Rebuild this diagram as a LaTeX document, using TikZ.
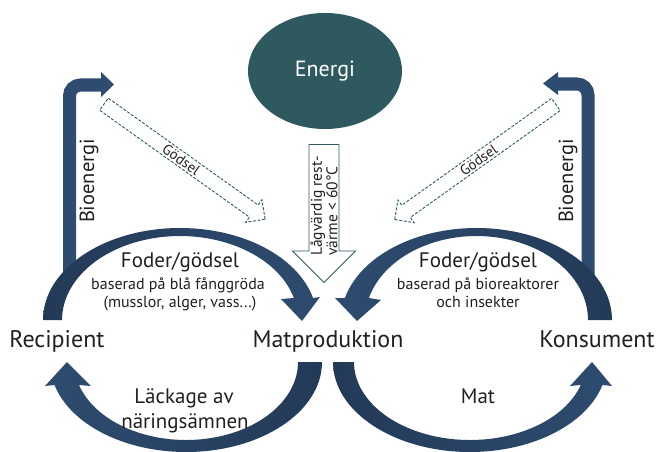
\documentclass[tikz,border=0pt]{standalone}
\usepackage{fontspec}
\setmainfont{PT Sans}
\usetikzlibrary{positioning,shapes.geometric,shapes.arrows}

\definecolor{navyd}{HTML}{233A57}
\definecolor{navyl}{HTML}{2E4C70}
\definecolor{tealf}{HTML}{2E5A5F}
\definecolor{teall}{HTML}{2F5D62}
\definecolor{ink}{HTML}{231F20}

\tikzset{
  place/.style={text=ink, anchor=base, font=\fontsize{24}{26}\selectfont},
  foder/.style={text=ink, anchor=base, font=\fontsize{21}{23}\selectfont},
  detail/.style={text=ink, anchor=base, font=\fontsize{16}{18}\selectfont},
  bio/.style={text=ink, rotate=90, font=\fontsize{20.5}{22}\selectfont},
  biobar/.style={draw=navyl, line width=13pt, rounded corners=11pt},
  godselarrow/.style={single arrow, draw=teall, line width=0.9pt, dash pattern=on 3pt off 1.6pt,
    fill=white, text=ink, font=\fontsize{14.5}{14.5}\selectfont, minimum height=198pt,
    single arrow head extend=6.5pt, inner xsep=0pt, inner ysep=1.5pt, text height=11pt, text depth=0pt},
  heatarrow/.style={single arrow, draw=teall, line width=0.8pt, fill=white, text=ink, align=left,
    font=\fontsize{15.5}{15.5}\selectfont, minimum height=138pt, single arrow head extend=16.5pt,
    inner xsep=0pt, inner ysep=1pt, rotate=90, shape border rotate=180}
}

\begin{document}
\begin{tikzpicture}[x=1pt, y=-1pt]
  \useasboundingbox (0,0) rectangle (656,452);

  \node (energi) [ellipse, fill=tealf, minimum width=154pt, minimum height=116pt, text=white,
    font=\fontsize{22}{22}\selectfont] at (325,71) {Energi};
  \node (varme) [heatarrow] at (324,206) {Lågvärdig rest-\\värme < 60°C};

  \node (godselL) [godselarrow, rotate=-35.5] at (181.5,159.5) {Gödsel};
  \node (godselR) [godselarrow, rotate=35.5, shape border rotate=180] at (478.3,159.8) {Gödsel};

  \draw [biobar] (69.5,280) |- (102,85);
  \fill [navyl] (101,72) -- (114,84.5) -- (101,97) -- cycle;
  \draw [biobar] (588,280) |- (557,84);
  \fill [navyl] (558,72) -- (543,83.5) -- (558,95) -- cycle;

  \shade [left color=navyd, right color=navyl] (43,320)
    arc[start angle=180, end angle=346.2, x radius=137, y radius=92]
    -- (320,297) -- (302,321) -- (281,299) -- (293.9,298)
    arc[start angle=344.8, end angle=180, x radius=118, y radius=84] -- cycle;
  \shade [left color=navyl, right color=navyd] (612,320)
    arc[start angle=0, end angle=-166.2, x radius=135.5, y radius=92]
    -- (335,298) -- (357,321) -- (381,300) -- (368.9,298)
    arc[start angle=-164.8, end angle=0, x radius=111.5, y radius=84] -- cycle;
  \shade [left color=navyl, right color=navyd] (322,362)
    arc[start angle=0, end angle=165.2, x radius=136, y radius=90]
    -- (45,386) -- (67,362) -- (91,386) -- (79,385)
    arc[start angle=162.85, end angle=0, x radius=112, y radius=78] -- cycle;
  \shade [left color=navyd, right color=navyl] (333,362)
    arc[start angle=180, end angle=14.8, x radius=137, y radius=90]
    -- (612,386) -- (592,362) -- (570,386) -- (580.8,385)
    arc[start angle=17.15, end angle=180, x radius=116, y radius=78] -- cycle;

  \node (recipient) [place] at (57,347) {Recipient};
  \node (matprod) [place] at (328,347) {Matproduktion};
  \node (konsument) [place] at (597,347) {Konsument};

  \node (foderL) [foder] at (180,267) {Foder/gödsel};
  \node (basL) [detail] at (178,289) {baserad på blå fånggröda};
  \node (musL) [detail] at (180,307) {(musslor, alger, vass...)};
  \node (foderR) [foder] at (478,267) {Foder/gödsel};
  \node (basR) [detail] at (478,289) {baserad på bioreaktorer};
  \node (insR) [detail] at (478,307) {och insekter};

  \node (lackage) [foder] at (184,403) {Läckage av};
  \node (naring) [foder] at (185,428) {näringsämnen};
  \node (matlbl) [foder] at (478,403) {Mat};

  \node (bioL) [bio] at (89,181) {Bioenergi};
  \node (bioR) [bio] at (568,181) {Bioenergi};
\end{tikzpicture}
\end{document}
